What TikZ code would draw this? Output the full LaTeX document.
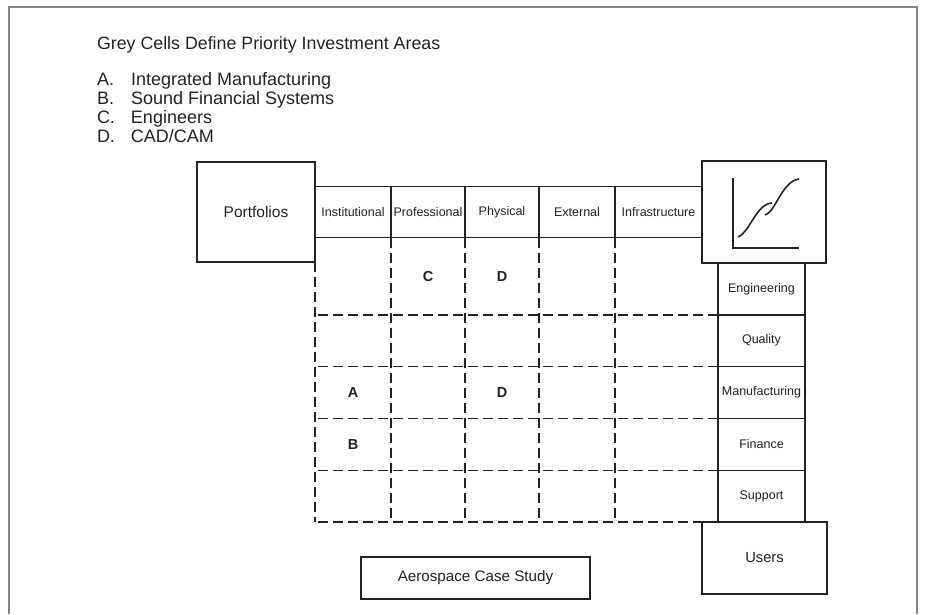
\documentclass[tikz,border=0pt]{standalone}
\usepackage{fontspec}
\setmainfont{Liberation Sans}
\usetikzlibrary{positioning,calc}
\definecolor{ink}{HTML}{222222}
\definecolor{framegray}{HTML}{858585}

\begin{document}
\begin{tikzpicture}[x=1pt,y=-1pt,line width=1.4pt,draw=ink,text=ink,inner sep=0pt,outer sep=0pt,node distance=0pt]
\tikzstyle{box} = [draw=ink, rectangle]
\tikzstyle{portfolio} = [box, minimum width=118pt, minimum height=100pt, font=\fontsize{15.5}{18}\selectfont]
\tikzstyle{column} = [box, minimum height=51pt, font=\fontsize{12.5}{15}\selectfont]
\tikzstyle{usercell} = [box, minimum width=87pt, minimum height=51.8pt, font=\fontsize{12.5}{15}\selectfont]
\tikzstyle{gridline} = [draw=ink, dash pattern=on 10pt off 5pt]
\tikzstyle{letter} = [font=\fontsize{14.5}{18}\selectfont\bfseries]

\useasboundingbox (0,0) rectangle (925,614);
\draw[framegray, line width=1.3pt] (9,614) -- (9,7) -- (917,7) -- (917,614);

\node[anchor=base west, font=\fontsize{17.8}{20}\selectfont] (TITLE) at (97,49)
   {Grey Cells Define Priority Investment Areas};

\node[below=23pt of TITLE.base west, anchor=north west, font=\fontsize{18}{19}\selectfont] (AREAS)
   {
      \begin{tabular}{@{}p{34pt}@{}l@{}}
         A. & Integrated Manufacturing\\
         B. & Sound Financial Systems\\
         C. & Engineers\\
         D. & CAD/CAM
      \end{tabular}
   };

\node[portfolio] (PORTFOLIOS) at (256,212) {Portfolios};

\node[column, minimum width=76pt] (INSTITUTIONAL) [right=of PORTFOLIOS] {Institutional};
\node[column, minimum width=74pt] (PROFESSIONAL) [right=of INSTITUTIONAL] {Professional};
\node[column, minimum width=74pt] (PHYSICAL) [right=of PROFESSIONAL] {Physical};
\node[column, minimum width=76pt] (EXTERNAL) [right=of PHYSICAL] {External};
\node[column, minimum width=87pt] (INFRA) [right=of EXTERNAL] {Infrastructure};

\node[box, minimum width=124pt, minimum height=102pt] (CURVE) [right=of INFRA] {};

\node[usercell] (ENGINEERING) [below=of CURVE, xshift=-2.5pt] {Engineering};
\node[usercell] (QUALITY) [below=of ENGINEERING] {Quality};
\node[usercell] (MANUFACTURING) [below=of QUALITY] {Manufacturing};
\node[usercell] (FINANCE) [below=of MANUFACTURING] {Finance};
\node[usercell] (SUPPORT) [below=of FINANCE] {Support};

\node[box, minimum width=125pt, minimum height=72pt, font=\fontsize{14.7}{17}\selectfont] (USERS) [below=of SUPPORT, xshift=3pt] {Users};

\node[box, minimum width=229pt, minimum height=42pt, font=\fontsize{15.2}{18}\selectfont] (CASESTUDY) at (475.5,578) {Aerospace Case Study};

% dashed grid of the portfolio cells
\path[gridline] (PORTFOLIOS.south east) -- (PORTFOLIOS.south east |- SUPPORT.south);
\foreach \col in {INSTITUTIONAL,PROFESSIONAL,PHYSICAL,EXTERNAL}
   \path[gridline] (\col.south east) -- (\col.south east |- SUPPORT.south);
\foreach \row in {ENGINEERING,QUALITY,MANUFACTURING,FINANCE,SUPPORT}
   \path[gridline] (\row.south west) -- (\row.south west -| PORTFOLIOS.east);

\node[letter] at ($(PROFESSIONAL.south)!0.5!(PROFESSIONAL.south |- ENGINEERING.south)$) {C};
\node[letter] at ($(PHYSICAL.south)!0.5!(PHYSICAL.south |- ENGINEERING.south)$) {D};
\node[letter] at (INSTITUTIONAL |- MANUFACTURING) {A};
\node[letter] at (PHYSICAL |- MANUFACTURING) {D};
\node[letter] at (INSTITUTIONAL |- FINANCE) {B};

% growth curves in the chart box
\draw (733,178) -- (733,248) -- (799,248);
\draw[line width=1.6pt] (738,237) .. controls (750,232) and (756,204) .. (772,203);
\draw[line width=1.6pt] (765,215) .. controls (775,213) and (782,181) .. (799,179);
\end{tikzpicture}
\end{document}
